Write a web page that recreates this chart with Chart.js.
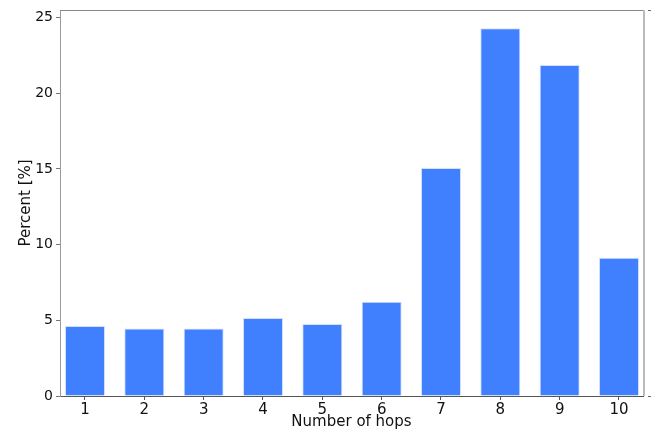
<!DOCTYPE html>
<html>
<head>
<meta charset="utf-8">
<script src="https://cdn.jsdelivr.net/npm/chart.js@4/dist/chart.umd.min.js"></script>
<style>
  body { margin: 0; background: #fff; }
  canvas { display: block; }
</style>
</head>
<body>
<canvas id="grafica" width="658" height="431"></canvas>
<script>
const hops = [1, 2, 3, 4, 5, 6, 7, 8, 9, 10];
const percent = [4.62, 4.46, 4.46, 5.15, 4.75, 6.22, 15.07, 24.29, 21.87, 9.13];
const yTicks = [0, 5, 10, 15, 20, 25];

const fuente = "'DejaVu Sans', sans-serif";

// marco superior y derecho, y las marcas sueltas a la derecha
const marco = {
  id: "marco",
  afterDraw(chart) {
    const { ctx, chartArea: a } = chart;
    ctx.save();
    ctx.strokeStyle = "#888";
    ctx.lineWidth = 1;
    ctx.beginPath();
    ctx.moveTo(a.left, a.top + 0.5);
    ctx.lineTo(a.right + 1, a.top + 0.5);
    ctx.stroke();
    ctx.strokeStyle = "#bbb";
    ctx.lineWidth = 2;
    ctx.beginPath();
    ctx.moveTo(a.right + 1, a.top);
    ctx.lineTo(a.right + 1, a.bottom);
    ctx.stroke();
    ctx.strokeStyle = "#666";
    ctx.lineWidth = 1;
    ctx.beginPath();
    ctx.moveTo(a.right + 5, a.top + 0.5);
    ctx.lineTo(a.right + 8, a.top + 0.5);
    ctx.moveTo(a.right + 5, a.bottom + 0.5);
    ctx.lineTo(a.right + 8, a.bottom + 0.5);
    ctx.stroke();
    ctx.restore();
  }
};

const ctx = document.getElementById("grafica").getContext("2d");
new Chart(ctx, {
  type: "bar",
  data: {
    datasets: [{
      data: hops.map((h, i) => ({ x: h, y: percent[i] })),
      backgroundColor: "#4080ff",
      borderColor: "rgba(200,215,255,0.8)",
      borderWidth: 1,
      borderSkipped: "bottom",
      barPercentage: 0.675,
      categoryPercentage: 1
    }]
  },
  options: {
    responsive: false,
    animation: false,
    layout: { padding: { top: 10, right: 15, left: 0, bottom: 0 } },
    plugins: {
      legend: { display: false },
      tooltip: { enabled: false }
    },
    scales: {
      x: {
        type: "linear",
        offset: false,
        min: 0.5787,
        max: 10.4045,
        afterBuildTicks: s => { s.ticks = hops.map(v => ({ value: v })); },
        afterFit: s => { s.height = 35; },
        grid: { offset: false, drawOnChartArea: false, tickLength: 4, tickColor: "#555" },
        border: { color: "#555", width: 1 },
        ticks: { color: "#111", font: { family: fuente, size: 15 }, padding: 1, maxRotation: 0 },
        title: {
          display: true,
          text: "Number of hops",
          color: "#111",
          font: { family: fuente, size: 15, lineHeight: 1 },
          padding: { top: 0, bottom: 1 }
        }
      },
      y: {
        min: 0,
        max: 25.5,
        afterBuildTicks: s => { s.ticks = yTicks.map(v => ({ value: v })); },
        afterFit: s => { s.width = 60; s.paddingTop = 0; s.paddingBottom = 0; },
        grid: { drawOnChartArea: false, tickLength: 4, tickColor: "#777" },
        border: { color: "#999", width: 1 },
        ticks: { color: "#111", font: { family: fuente, size: 14 }, padding: 3 },
        title: {
          display: true,
          text: "Percent [%]",
          color: "#111",
          font: { family: fuente, size: 15, lineHeight: 1 },
          padding: { top: 19, bottom: 0 }
        }
      }
    }
  },
  plugins: [marco]
});
</script>
</body>
</html>
